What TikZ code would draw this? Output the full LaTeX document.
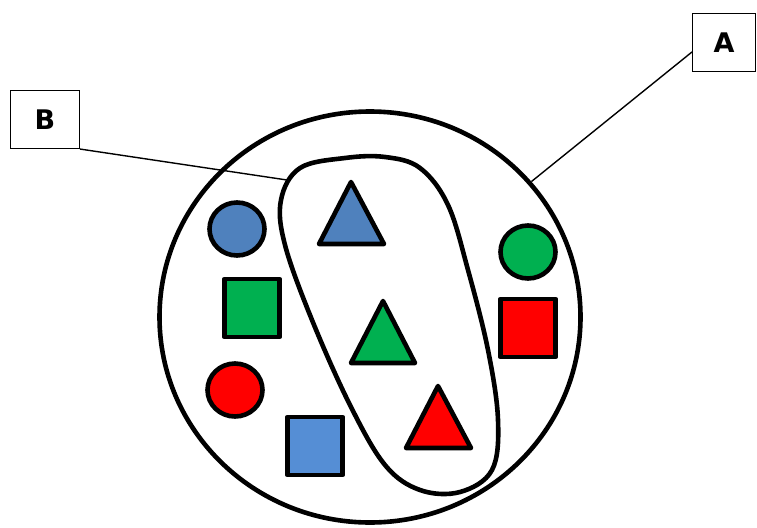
\documentclass[tikz,border=0pt]{standalone}
\usepackage{fontspec}
\setsansfont{DejaVu Sans}
\usetikzlibrary{shapes.geometric, calc}
\definecolor{setblue} {RGB}{79, 129, 189}
\definecolor{skyblue} {RGB}{85, 142, 213}
\definecolor{setgreen}{RGB}{0, 176, 80}
\definecolor{setred}  {RGB}{255, 0, 0}

\begin{document}
\begin{tikzpicture}[x=1pt, y=-1pt,
	piece/.style={draw, line width=4.6pt, line join=round, inner sep=0pt},
	dot/.style={piece, ellipse, minimum width=55pt, minimum height=53pt},
	sq/.style={piece, rectangle, minimum width=55.5pt, minimum height=58pt},
	tag/.style={draw, line width=1.1pt, inner sep=0pt, minimum height=58pt,
		font=\sffamily\bfseries\fontsize{27}{32}\selectfont},
	leader/.style={line width=1.4pt}]
	\useasboundingbox (0,0) rectangle (757,527);
	% the whole set and the subset
	\node[draw, ellipse, line width=4.6pt, inner sep=0pt,
		minimum width=421pt, minimum height=411pt] (set) at (370,317) {};
	\draw[line width=4.6pt] plot[smooth cycle, tension=0.6] coordinates {
		(281,200) (300,168) (345,158) (385,157) (420,168) (448,205) (468,270)
		(488,350) (498,420) (492,470) (460,492) (420,490) (385,465) (350,405)
		(312,320) (285,245)};
	% pieces
	\node[dot, fill=setblue]  (bluedot)  at (237,229) {};
	\node[sq,  fill=setgreen] (greensq)  at (252,308) {};
	\node[dot, fill=setred]   (reddot)   at (235,390) {};
	\node[sq,  fill=skyblue]  (bluesq)   at (315,446) {};
	\node[dot, fill=setgreen] (greendot) at (528,252) {};
	\node[sq,  fill=setred]   (redsq)    at (528,328) {};
	\draw[piece, fill=setblue]  (351,182) -- (384,244) -- (319,244) -- cycle;
	\draw[piece, fill=setgreen] (383,301) -- (415,363) -- (351,363) -- cycle;
	\draw[piece, fill=setred]   (438,386) -- (471,448) -- (406,448) -- cycle;
	% labels
	\node[tag, minimum width=69pt] (B) at (45,119.5) {B};
	\node[tag, minimum width=63pt] (A) at (724,42.5) {A};
	\coordinate (Bend) at (287,180);
	\draw[leader] (B.south east) -- (Bend);
	\draw[leader] ([yshift=-9.5pt]A.west) -- (set.40.5);
\end{tikzpicture}
\end{document}
